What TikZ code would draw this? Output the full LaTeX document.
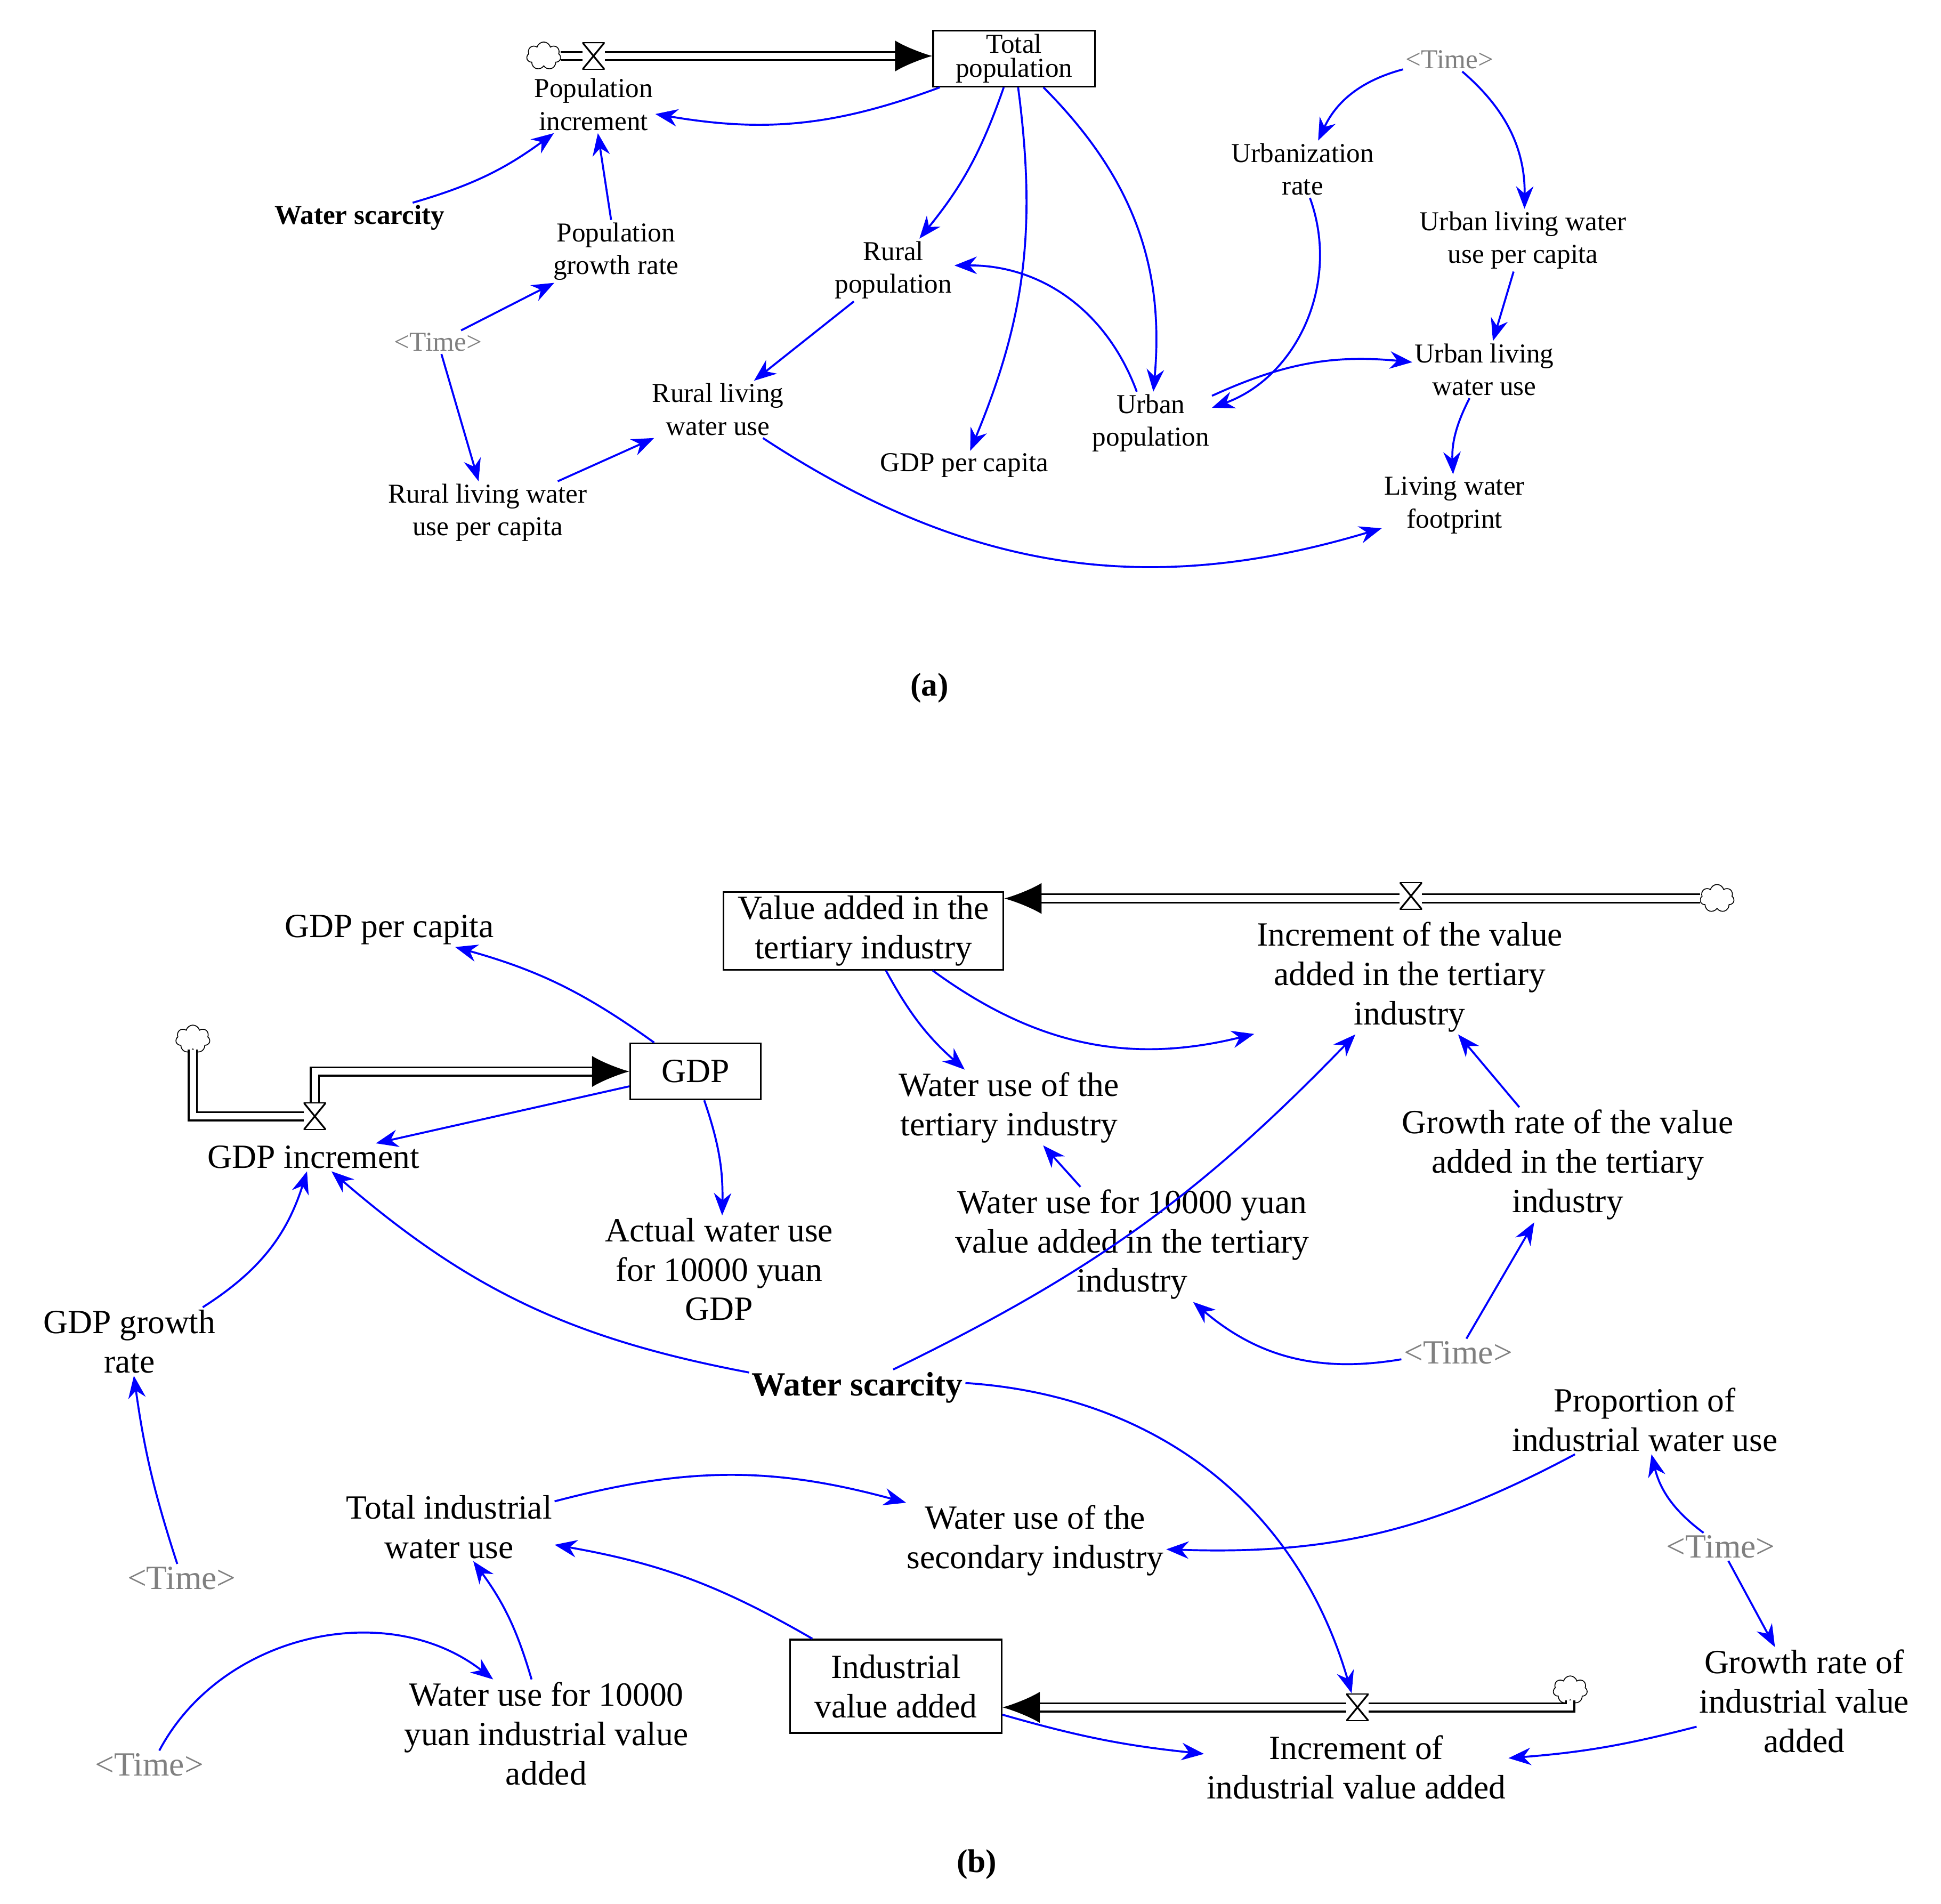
\documentclass[tikz,border=0pt]{standalone}
\usepackage{fontspec}
\setmainfont{Liberation Serif}
\usetikzlibrary{arrows.meta,shapes.symbols}
\tikzset{
    var/.style={align=center,inner sep=1pt},
    vara/.style={var,font=\fontsize{12.5}{15}\selectfont},
    varb/.style={var,font=\fontsize{15.5}{18}\selectfont},
    shadow/.style={text=gray},
    level/.style={draw,thick,inner sep=2pt,minimum height=0.9cm},
    cloudy/.style={cloud,draw,cloud puffs=7,minimum width=0.55cm,minimum height=0.45cm,inner sep=0pt},
    valve/.style={fill=white,minimum width=0.36cm,minimum height=0.44cm,inner sep=0pt,
        path picture={\draw[thick] (path picture bounding box.south west) -- (path picture bounding box.south east)
        -- (path picture bounding box.north west) -- (path picture bounding box.north east) -- cycle;}},
    flow/.style={double,double distance=3pt,thick,-{Latex[length=0.6cm,width=0.5cm]}},
    pipe/.style={double,double distance=3pt,thick},
    link/.style={blue,line width=0.9pt,-{Stealth[length=0.36cm,width=0.28cm]}},
}
\begin{document}
\begin{tikzpicture}[x=0.02cm,y=-0.02cm]
\useasboundingbox (0,0) rectangle (1560,1530);
% (a)
\node[level,vara,minimum width=2.6cm,minimum height=0.9cm] (totpop) at (815,47) {Total\\[-4pt]population};
\node[cloudy] (cloudA) at (437,45) {};
\draw[flow] (cloudA.east) -- (totpop.west |- cloudA.east);
\node[valve] (valveA) at (477,45) {};
\node[vara] (popinc) at (477,84) {Population\\increment};
\node[vara,font=\fontsize{12.5}{15}\selectfont\bfseries] (wsA) at (289,175) {Water scarcity};
\node[vara] (popgr) at (495,202) {Population\\growth rate};
\node[vara,shadow] (timeA1) at (352,275) {<Time>};
\node[vara] (rurpop) at (718,217) {Rural\\population};
\node[vara] (rlwu) at (577,329) {Rural living\\water use};
\node[vara] (rlwupc) at (392,412) {Rural living water\\use per capita};
\node[vara] (gdppcA) at (775,374) {GDP per capita};
\node[vara] (urbpop) at (925,340) {Urban\\population};
\node[vara] (urbrate) at (1047,136) {Urbanization\\rate};
\node[vara,shadow] (timeA2) at (1165,48) {<Time>};
\node[vara] (ulwupc) at (1224,193) {Urban living water\\use per capita};
\node[vara] (ulwu) at (1193,297) {Urban living\\water use};
\node[vara] (lwf) at (1169,406) {Living water\\footprint};
\node[font=\fontsize{15}{18}\selectfont\bfseries] (capa) at (747,553) {(a)};

\draw[link] (totpop) to[bend left=15] (popinc);
\draw[link] (wsA) to[bend right=10] (popinc);
\draw[link] (popgr) to (popinc);
\draw[link] (timeA1) to (popgr);
\draw[link] (timeA1) to (rlwupc);
\draw[link] (rlwupc) to (rlwu);
\draw[link] (rurpop) to (rlwu);
\draw[link] (totpop) to[bend left=10] (rurpop);
\draw[link] (totpop) to[bend left=15] (gdppcA);
\draw[link] (totpop) to[bend left=25] (urbpop);
\draw[link] (urbpop) to[bend right=35] (rurpop);
\draw[link] (timeA2) to[bend right=25] (urbrate);
\draw[link] (timeA2) to[bend left=25] (ulwupc);
\draw[link] (urbrate) to[bend left=45] (urbpop);
\draw[link] (ulwupc) to (ulwu);
\draw[link] (urbpop) to[bend left=15] (ulwu);
\draw[link] (ulwu) to[bend right=15] (lwf);
\draw[link] (rlwu) to[bend right=25] (lwf);

% (b)
\node[level,varb,minimum width=4.5cm,minimum height=1.25cm] (vati) at (694,748) {Value added in the\\tertiary industry};
\node[cloudy] (cloudB1) at (1380,722) {};
\draw[flow] (cloudB1.west) -- (vati.east |- cloudB1.west);
\node[valve] (valveB1) at (1134,720) {};
\node[varb] (incvati) at (1133,785) {Increment of the value\\added in the tertiary\\industry};
\node[varb] (gdppcB) at (313,747) {GDP per capita};
\node[level,varb,minimum width=2.1cm] (gdp) at (559,861) {GDP};
\node[cloudy] (cloudB2) at (155,835) {};
\coordinate (bendB2) at (253,897);
\draw[pipe] (cloudB2.south) |- (bendB2);
\draw[flow] (bendB2) |- (gdp.west);
\node[valve] (valveB2) at (253,897) {};
\node[varb] (gdpinc) at (252,930) {GDP increment};
\node[varb] (wuti) at (811,890) {Water use of the\\tertiary industry};
\node[varb] (awu) at (578,1020) {Actual water use\\for 10000 yuan\\GDP};
\node[varb] (wu10t) at (910,1000) {Water use for 10000 yuan\\value added in the tertiary\\industry};
\node[varb] (grti) at (1260,936) {Growth rate of the value\\added in the tertiary\\industry};
\node[varb] (gdpgr) at (104,1078) {GDP growth\\rate};
\node[varb,font=\fontsize{15.5}{18}\selectfont\bfseries] (wsB) at (689,1115) {Water scarcity};
\node[varb,shadow] (timeB1) at (1172,1087) {<Time>};
\node[varb] (propiwu) at (1322,1141) {Proportion of\\industrial water use};
\node[varb] (tiwu) at (361,1227) {Total industrial\\water use};
\node[varb] (wusi) at (832,1238) {Water use of the\\secondary industry};
\node[varb,shadow] (timeB2) at (146,1268) {<Time>};
\node[varb,shadow] (timeB3) at (1383,1243) {<Time>};
\node[level,varb,minimum width=3.4cm,minimum height=1.5cm] (iva) at (720,1355) {Industrial\\value added};
\node[cloudy] (cloudB3) at (1262,1358) {};
\coordinate (bendB3) at (1262,1372);
\draw[flow] (cloudB3.south) |- (iva.east |- bendB3);
\node[valve] (valveB3) at (1091,1372) {};
\node[varb] (wu10i) at (439,1393) {Water use for 10000\\yuan industrial value\\added};
\node[varb,shadow] (timeB4) at (120,1418) {<Time>};
\node[varb] (griva) at (1450,1367) {Growth rate of\\industrial value\\added};
\node[varb] (inciva) at (1090,1420) {Increment of\\industrial value added};
\node[font=\fontsize{15}{18}\selectfont\bfseries] (capb) at (785,1498) {(b)};

\draw[link] (gdp) to[bend right=10] (gdppcB);
\draw[link] (gdp) to (gdpinc);
\draw[link] (gdp) to[bend left=10] (awu);
\draw[link] (gdpgr) to[bend right=20] (gdpinc);
\draw[link] (timeB2) to[bend left=5] (gdpgr);
\draw[link] (wsB) to[bend left=15] (gdpinc);
\draw[link] (vati) to[bend right=10] (wuti);
\draw[link] (vati) to[bend right=25] (incvati);
\draw[link] (wsB) to[bend right=10] (incvati);
\draw[link] (grti) to (incvati);
\draw[link] (wu10t) to (wuti);
\draw[link] (timeB1) to[bend left=25] (wu10t);
\draw[link] (timeB1) to (grti);
\draw[link] (wsB) to[bend left=35] (valveB3);
\draw[link] (tiwu) to[bend left=15] (wusi);
\draw[link] (propiwu) to[bend left=15] (wusi);
\draw[link] (timeB3) to[bend left=20] (propiwu);
\draw[link] (timeB3) to (griva);
\draw[link] (iva) to[bend right=10] (tiwu);
\draw[link] (wu10i) to[bend right=10] (tiwu);
\draw[link] (timeB4) to[bend left=50] (wu10i);
\draw[link] (iva) to[bend right=5] (inciva);
\draw[link] (griva) to[bend left=5] (inciva);
\end{tikzpicture}
\end{document}
